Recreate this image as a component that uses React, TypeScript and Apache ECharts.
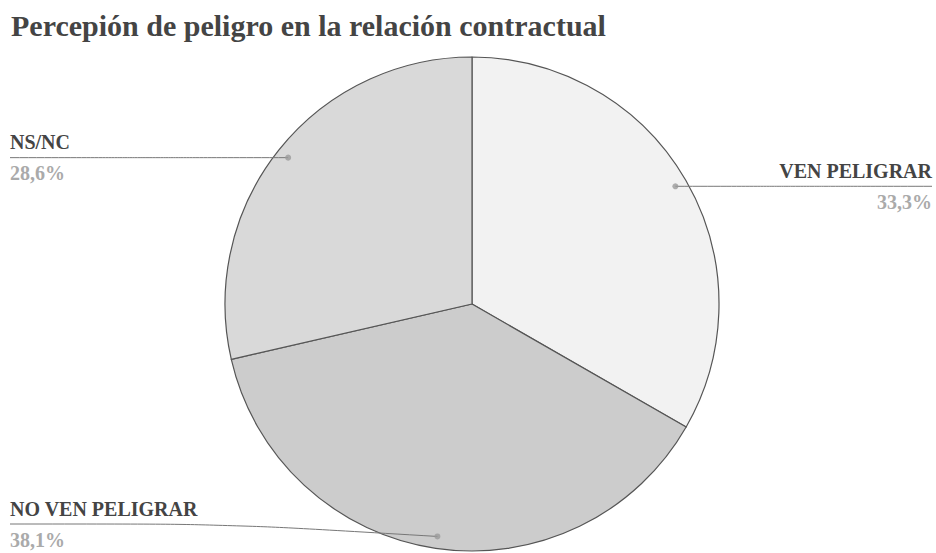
import React, { useEffect, useRef } from "react";
import * as echarts from "echarts";

const TITLE = "Percepión de peligro en la relación contractual";
const categories = ["VEN PELIGRAR", "NO VEN PELIGRAR", "NS/NC"];
const values = [33.3, 38.1, 28.6];
const colors = ["#f2f2f2", "#cccccc", "#d9d9d9"];

const W = 936;
const H = 553;
const CX = 472;
const CY = 304;
const R = 247;
const R_DOT = 235;
const EDGE = 10;
const SERIF = "Liberation Serif";

export default function App() {
  const ref = useRef<HTMLDivElement>(null);
  useEffect(() => {
    if (!ref.current) return;
    const chart = echarts.init(ref.current, null, { renderer: "svg" });
    const total = values.reduce((a, b) => a + b, 0);
    let cum = 0;
    const mids = values.map((v) => {
      const m = ((cum + v / 2) / total) * 100;
      cum += v;
      return m;
    });
    const pieData = categories.map((c, i) => ({
      name: c,
      value: values[i],
      itemStyle: { color: colors[i] },
    }));
    const fmt = (p: any) =>
      "{n|" + p.name + "}\n{v|" + Number(p.value).toFixed(1).replace(".", ",") + "%}";
    chart.setOption({
      animation: false,
      backgroundColor: "#ffffff",
      textStyle: { fontFamily: SERIF },
      title: {
        text: TITLE,
        left: 6,
        top: 5,
        textStyle: {
          fontFamily: SERIF,
          fontWeight: "bold",
          fontSize: 30,
          color: "#444444",
        },
      },
      polar: { center: [CX, CY], radius: R },
      angleAxis: { type: "value", min: 0, max: 100, startAngle: 90, clockwise: true, show: false },
      radiusAxis: { type: "value", min: 0, max: R, show: false },
      series: [
        {
          type: "pie",
          center: [CX, CY],
          radius: R,
          startAngle: 90,
          clockwise: true,
          silent: true,
          label: { show: false },
          labelLine: { show: false },
          itemStyle: { borderColor: "#555555", borderWidth: 1.2 },
          data: pieData,
          z: 1,
        },
        {
          type: "pie",
          center: [CX, CY],
          radius: R_DOT,
          startAngle: 90,
          clockwise: true,
          silent: true,
          z: 3,
          itemStyle: { color: "rgba(0,0,0,0)", borderWidth: 0 },
          label: {
            show: true,
            position: "outside",
            formatter: fmt,
            fontFamily: SERIF,
            rich: {
              n: { fontFamily: SERIF, fontWeight: "bold", fontSize: 20, color: "#444444", lineHeight: 31 },
              v: { fontFamily: SERIF, fontWeight: "bold", fontSize: 20, color: "#aaaaaa", lineHeight: 31 },
            },
          },
          labelLine: {
            show: true,
            length: 0,
            length2: 10,
            smooth: 0.25,
            lineStyle: { color: "#777777", width: 1 },
          },
          labelLayout: (params: any) => {
            const i = params.dataIndex;
            const ang = (mids[i] / 100) * Math.PI * 2;
            let p0 = [CX + R_DOT * Math.sin(ang), CY - R_DOT * Math.cos(ang)];
            if (params.labelLinePoints && params.labelLinePoints[0]) p0 = params.labelLinePoints[0];
            const isRight = p0[0] >= CX;
            const y = Math.max(Math.min(p0[1], H - 29), 60);
            const endX = isRight ? W - 4 : EDGE;
            const midX = isRight ? p0[0] + 200 : p0[0] - 210;
            const pts =
              Math.abs(y - p0[1]) < 0.5
                ? [p0, [(p0[0] + endX) / 2, y], [endX, y]]
                : [p0, [midX, y], [endX, y]];
            return {
              x: isRight ? W - 4 : EDGE,
              y,
              align: isRight ? "right" : "left",
              verticalAlign: "middle",
              labelLinePoints: pts,
            };
          },
          data: categories.map((c, i) => ({ name: c, value: values[i] })),
        },
        {
          type: "scatter",
          coordinateSystem: "polar",
          silent: true,
          symbol: "circle",
          symbolSize: 6,
          z: 4,
          itemStyle: { color: "#9a9a9a" },
          data: mids.map((m) => [R_DOT, m]),
        },
      ],
    });
    return () => chart.dispose();
  }, []);
  return (
    <div
      ref={ref}
      style={{ position: "fixed", left: 0, top: 0, width: W, height: H }}
    />
  );
}
